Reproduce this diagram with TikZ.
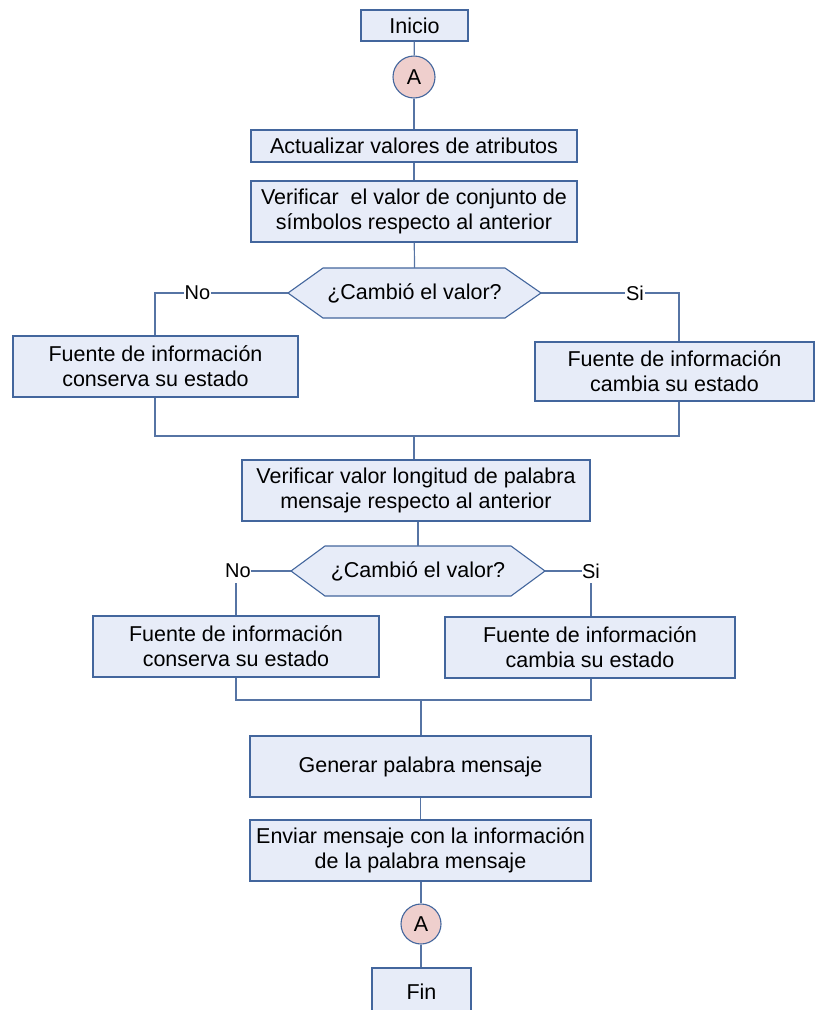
\documentclass[tikz,border=0pt]{standalone}
\usepackage{fontspec}
\setmainfont{Liberation Sans}
\definecolor{boxfill}{HTML}{E7ECF8}
\definecolor{boxline}{HTML}{43669D}
\definecolor{circfill}{HTML}{EFCFCD}
\definecolor{conline}{HTML}{5674A4}
\tikzset{
  box/.style={draw=boxline, fill=boxfill, line width=1.1pt, align=center, inner sep=0pt,
    font=\fontsize{21.5}{25}\selectfont},
  conn/.style={draw=conline, line width=1.2pt},
  circ/.style={circle, draw=boxline, fill=circfill, line width=1.1pt, minimum size=42pt, inner sep=0pt,
    font=\fontsize{21.5}{25}\selectfont},
  lbl/.style={font=\fontsize{20}{22}\selectfont, inner sep=1pt, fill=white},
  hexa/.style={draw=boxline, fill=boxfill, line width=1.1pt},
  hexnode/.style={inner sep=0pt, align=center, font=\fontsize{21.5}{25}\selectfont}
}
\begin{document}
\begin{tikzpicture}[x=1pt, y=-1pt]
\useasboundingbox (0,0) rectangle (815,1010);
\clip (0,0) rectangle (815,1010);

% boxes
\node[box, minimum width=107pt, minimum height=31pt] (inicio) at (414.5,25.5) {Inicio};
\node[circ] (cA) at (414,77) {A};
\node[box, minimum width=326pt, minimum height=32pt] (act) at (414,146) {Actualizar valores de atributos};
\node[box, minimum width=326pt, minimum height=61pt] (ver1) at (414,211.5) {Verificar\ \ el valor de conjunto de\\símbolos respecto al anterior};

% hexagon 1
\path[hexa] (288,293) -- (323,268) -- (505,268) -- (541,293) -- (505,318) -- (323,318) -- cycle;
\node[hexnode, minimum width=253pt, minimum height=50pt] (d1) at (414.5,293) {¿Cambió el valor?};

\node[box, minimum width=285pt, minimum height=61pt] (lb1) at (155.5,366.5) {Fuente de información\\conserva su estado};
\node[box, minimum width=279pt, minimum height=59pt] (rb1) at (674.5,371.5) {Fuente de información\\cambia su estado};

\coordinate (lt1) at (155,293);
\coordinate (rt1) at (679,293);
\coordinate (lj1) at (155,436);
\coordinate (rj1) at (679,436);
\coordinate (mj1) at (414,436);

\draw[conn] (inicio) -- (cA);
\draw[conn] (cA) -- (act);
\draw[conn] (act) -- (ver1);
\draw[conn] (ver1) -- (d1.north);
\draw[conn] (d1.west) -- node[lbl, pos=0.68] {No} (lt1) -- (lt1 |- lb1.north);
\draw[conn] (d1.east) -- node[lbl, pos=0.68] {Si} (rt1) -- (rt1 |- rb1.north);
\draw[conn] (lt1 |- lb1.south) -- (lj1) -- (rj1) -- (rt1 |- rb1.south);

\node[box, minimum width=348pt, minimum height=61pt] (ver2) at (416,490.5) {Verificar valor longitud de palabra\\mensaje respecto al anterior};
\draw[conn] (mj1) -- (mj1 |- ver2.north);

% hexagon 2
\path[hexa] (291,571) -- (325,546) -- (511,546) -- (545,571) -- (511,596) -- (325,596) -- cycle;
\node[hexnode, minimum width=254pt, minimum height=50pt] (d2) at (418,571) {¿Cambió el valor?};
\draw[conn] (ver2.south -| d2.north) -- (d2.north);

\node[lbl, fill=none, inner sep=0pt] (no2) at (238,571) {No};
\node[lbl, fill=none, inner sep=0pt] (si2) at (591,571) {Si};

\node[box, minimum width=286pt, minimum height=61pt] (lb2) at (236,646.5) {Fuente de información\\conserva su estado};
\node[box, minimum width=290pt, minimum height=61pt] (rb2) at (590,647.5) {Fuente de información\\cambia su estado};

\draw[conn] (d2.west) -- (no2.east);
\draw[conn] (d2.east) -- (si2.west);
\coordinate (lt2) at (236,583);
\coordinate (rt2) at (591,583);
\draw[conn] (lt2) -- (lt2 |- lb2.north);
\draw[conn] (rt2) -- (rt2 |- rb2.north);

\coordinate (lj2) at (236,700);
\coordinate (rj2) at (591,700);
\coordinate (mj2) at (421,700);
\draw[conn] (lt2 |- lb2.south) -- (lj2) -- (rj2) -- (rt2 |- rb2.south);

\node[box, minimum width=341pt, minimum height=61pt] (gen) at (420.5,766.5) {Generar palabra mensaje};
\draw[conn] (mj2) -- (mj2 |- gen.north);
\node[box, minimum width=341pt, minimum height=61pt] (env) at (420.5,850.5) {Enviar mensaje con la información\\de la palabra mensaje};
\draw[conn] (gen) -- (env);

\node[circ, minimum size=40pt] (cA2) at (421,924) {A};
\node[box, minimum width=99pt, minimum height=60pt, text depth=0pt] (fin) at (421.5,998) {};
\node[font=\fontsize{21.5}{25}\selectfont, inner sep=0pt] (fint) at (421.5,992) {Fin};
\draw[conn] (env.south -| cA2.north) -- (cA2.north);
\draw[conn] (cA2.south) -- (cA2.south |- fin.north);
\end{tikzpicture}
\end{document}
